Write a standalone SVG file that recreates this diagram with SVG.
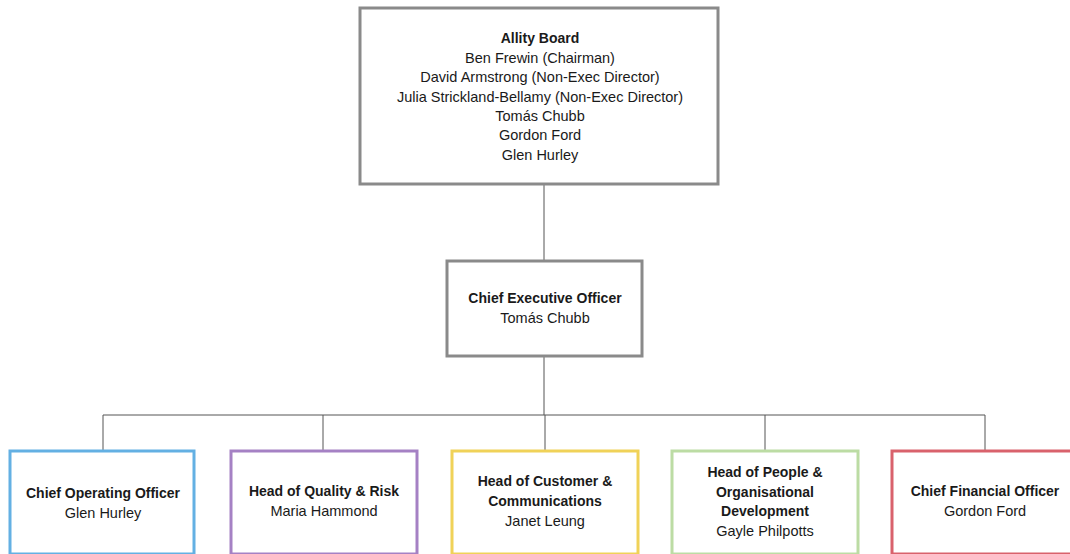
<svg xmlns="http://www.w3.org/2000/svg" width="1070" height="554" viewBox="0 0 1070 554">
<style>
text{font-family:"Liberation Sans",Arial,sans-serif;font-size:14.5px;fill:#1a1a1a;text-anchor:middle}
.b{font-weight:bold;font-size:14px}
.box{fill:#fff;stroke-width:3}
.gray{stroke:#8a8a8a}
.conn{stroke:#555;stroke-width:1;fill:none}
</style>
<rect width="1070" height="554" fill="#fff"/>
<g id="connectors">
<path class="conn" d="M544 185V261M544 356V415M103 415H985M103 415V450M323 415V450M545 415V450M765 415V450M985 415V450"/>
</g>
<g id="board">
<rect class="box gray" x="360" y="8" width="358" height="176"/>
<text class="b" x="540" y="43">Allity Board</text>
<text x="540" y="63">Ben Frewin (Chairman)</text>
<text x="540" y="82">David Armstrong (Non-Exec Director)</text>
<text x="540" y="102">Julia Strickland-Bellamy (Non-Exec Director)</text>
<text x="540" y="121">Tomás Chubb</text>
<text x="540" y="140">Gordon Ford</text>
<text x="540" y="160">Glen Hurley</text>
</g>
<g id="ceo">
<rect class="box gray" x="447" y="261" width="195" height="95"/>
<text class="b" x="545" y="303">Chief Executive Officer</text>
<text x="545" y="323">Tomás Chubb</text>
</g>
<g id="coo">
<rect class="box" stroke="#63b0e3" x="10" y="451" width="184" height="103"/>
<text class="b" x="103" y="498">Chief Operating Officer</text>
<text x="103" y="518">Glen Hurley</text>
</g>
<g id="quality">
<rect class="box" stroke="#a581c4" x="231" y="451" width="186" height="103"/>
<text class="b" x="324" y="496">Head of Quality &amp; Risk</text>
<text x="324" y="516">Maria Hammond</text>
</g>
<g id="customer">
<rect class="box" stroke="#f0d258" x="452" y="451" width="186" height="103"/>
<text class="b" x="545" y="486">Head of Customer &amp;</text>
<text class="b" x="545" y="506">Communications</text>
<text x="545" y="526">Janet Leung</text>
</g>
<g id="people">
<rect class="box" stroke="#bcdca4" x="672" y="451" width="186" height="103"/>
<text class="b" x="765" y="477">Head of People &amp;</text>
<text class="b" x="765" y="497">Organisational</text>
<text class="b" x="765" y="516">Development</text>
<text x="765" y="536">Gayle Philpotts</text>
</g>
<g id="cfo">
<rect class="box" stroke="#d9626c" x="892" y="451" width="186" height="103"/>
<text class="b" x="985" y="496">Chief Financial Officer</text>
<text x="985" y="516">Gordon Ford</text>
</g>
</svg>
